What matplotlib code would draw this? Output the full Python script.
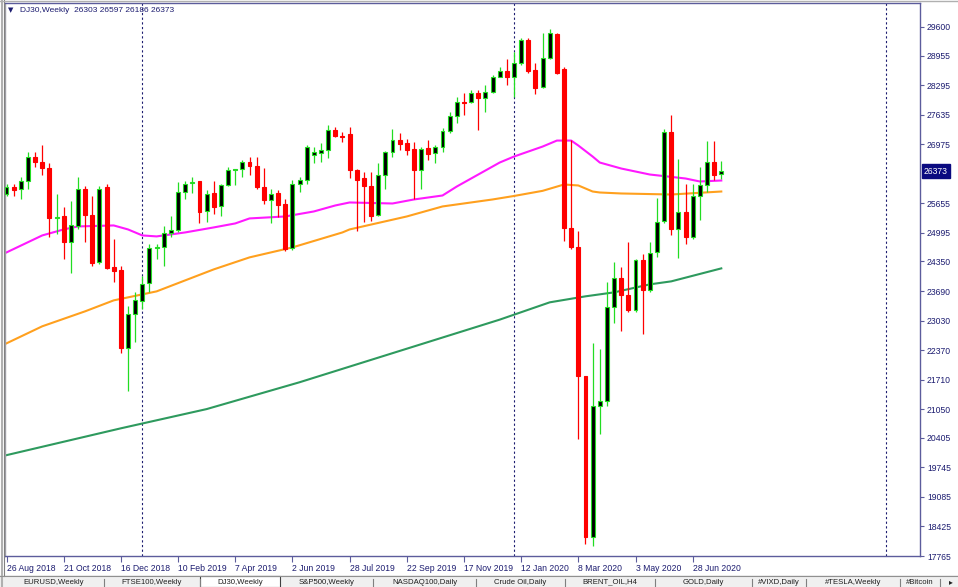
import numpy as np
import matplotlib
matplotlib.use("Agg")
import matplotlib.pyplot as plt
import matplotlib.transforms as mtransforms
from matplotlib.patches import Rectangle
from matplotlib.lines import Line2D

# ---------------- data (weekly OHLC, DJ30) ----------------
opens = [25849, 26005, 25960, 26139, 26697, 26585, 26451, 25320, 25357, 24777,
         25134, 25960, 25380, 24330, 26005, 24218, 24151, 22410, 23169, 23459,
         23861, 24643, 24665, 24978, 25045, 25893, 26110, 26139, 25469, 25871,
         25581, 26050, 26395, 26429, 26585, 26496, 26005, 25715, 25871, 25625,
         24643, 26094, 26183, 26742, 26786, 26853, 27300, 27166, 27200, 26407,
         26228, 26027, 25380, 26273, 26809, 27077, 27010, 26876, 26407, 26898,
         26786, 26920, 27278, 27613, 27925, 27925, 28126, 28014, 28148, 28483,
         28617, 28483, 28796, 29310, 28640, 28260, 28908, 29444, 28662, 25089,
         24665, 21784, 18189, 21115, 21226, 23325, 23973, 23593, 23258, 24375,
         23705, 24553, 25246, 27255, 25067, 25447, 24888, 25804, 26050, 26585,
         26303]
highs = [26072, 26072, 26250, 26809, 26809, 26965, 26563, 25849, 25558, 25692,
         26250, 26027, 25804, 26027, 26072, 24844, 24241, 23348, 23660, 24017,
         24732, 24732, 25134, 25357, 26117, 26139, 26250, 26150, 25938, 26139,
         26072, 26474, 26429, 26630, 26697, 26697, 26451, 25960, 25938, 25737,
         26183, 26250, 26965, 26920, 27010, 27412, 27367, 27255, 27367, 26420,
         26362, 26362, 26563, 26831, 27322, 27233, 27099, 27032, 26920, 27077,
         26965, 27345, 27702, 28037, 28126, 28193, 28193, 28305, 28528, 28707,
         28885, 29042, 29354, 29354, 28796, 29466, 29555, 29466, 28707, 27077,
         25022, 21800, 22521, 22387, 23883, 24330, 24218, 24777, 24397, 24509,
         24777, 25781, 27322, 27635, 26652, 26072, 26072, 26474, 27054, 27054,
         26597]
lows = [25804, 25804, 25737, 25960, 26474, 26295, 24888, 24955, 24397, 24084,
        25067, 24777, 24241, 24285, 24174, 23884, 22298, 21449, 22544, 23281,
        23660, 24397, 24241, 24888, 25000, 25737, 25871, 25201, 25223, 25402,
        25357, 26027, 26050, 26250, 26295, 25960, 25625, 25201, 25335, 24576,
        24598, 25893, 26072, 26563, 26585, 26675, 27144, 27032, 26206, 25022,
        25223, 25246, 25357, 25960, 26697, 26853, 26742, 25737, 25960, 26630,
        26563, 26809, 27233, 27456, 27635, 27903, 27300, 27702, 28126, 28483,
        28305, 28037, 28751, 28573, 28104, 28238, 28885, 28550, 24800, 24620,
        20378, 18033, 17988, 20489, 21115, 22968, 22789, 23213, 23213, 22722,
        23660, 24442, 25201, 24933, 24420, 24732, 24844, 25268, 25893, 26183,
        26186]
closes = [26005, 25938, 26139, 26697, 26585, 26451, 25313, 25340, 24777, 25156,
          25960, 25380, 24308, 25982, 24196, 24129, 22410, 23169, 23481, 23839,
          24643, 24665, 24978, 25045, 25915, 26094, 26130, 25447, 25849, 25558,
          26050, 26385, 26410, 26585, 26496, 26005, 25715, 25849, 25603, 24620,
          26094, 26183, 26920, 26809, 26853, 27300, 27166, 27144, 26385, 26183,
          26027, 25357, 26273, 26809, 27077, 26987, 26853, 26407, 26876, 26764,
          26920, 27278, 27613, 27925, 27903, 28126, 28014, 28148, 28483, 28617,
          28483, 28796, 29310, 28617, 28238, 28908, 29466, 28573, 25089, 24665,
          21784, 18189, 21115, 21226, 23325, 23973, 23593, 23258, 24375, 23705,
          24531, 25223, 27255, 25067, 25447, 24888, 25804, 26050, 26585, 26273,
          26373]

# moving averages, read at sample bars (bar index, price)
ma_magenta_idx = [0, 5, 8, 10, 15, 17, 19, 21, 25, 29, 32, 34, 39, 43, 46, 48, 54,
                  57, 61, 63, 66, 69, 71, 75, 77, 79, 80, 82, 83, 86, 90, 95, 97, 100]
ma_magenta_val = [24553, 24933, 25067, 25134, 25156, 25067, 24933, 24911, 25000,
                  25112, 25201, 25313, 25357, 25469, 25603, 25670, 25647, 25737,
                  25826, 26027, 26295, 26563, 26697, 26920, 27054, 27054, 26943,
                  26697, 26563, 26429, 26295, 26206, 26139, 26161]
ma_orange_idx = [0, 5, 11, 15, 21, 29, 34, 40, 47, 48, 56, 61, 68, 71, 75, 78, 80,
                 82, 83, 86, 93, 100]
ma_orange_val = [22520, 22901, 23236, 23481, 23682, 24174, 24442, 24665, 25000,
                 25067, 25357, 25581, 25737, 25815, 25930, 26072, 26050, 25915,
                 25893, 25871, 25848, 25915]
ma_green_idx = [0, 16, 28, 41, 55, 69, 76, 81, 85, 90, 93, 100]
ma_green_val = [20020, 20620, 21050, 21650, 22350, 23050, 23437, 23571, 23660,
                23839, 23906, 24196]

date_tick_idx = [0, 8, 16, 24, 32, 40, 48, 56, 64, 72, 80, 88, 96]
date_labels = ["26 Aug 2018", "21 Oct 2018", "16 Dec 2018", "10 Feb 2019",
               "7 Apr 2019", "2 Jun 2019", "28 Jul 2019", "22 Sep 2019",
               "17 Nov 2019", "12 Jan 2020", "8 Mar 2020", "3 May 2020",
               "28 Jun 2020"]
separator_idx = [19, 71, 123]
price_ticks = [17765, 18425, 19085, 19745, 20405, 21050, 21710, 22370, 23030,
               23690, 24350, 24995, 25655, 26975, 27635, 28295, 28955, 29600]
last_price = 26373
header = "DJ30,Weekly  26303 26597 26186 26373"
tabs = ["EURUSD,Weekly", "FTSE100,Weekly", "DJ30,Weekly", "S&P500,Weekly",
        "NASDAQ100,Daily", "Crude Oil,Daily", "BRENT_OIL,H4", "GOLD,Daily",
        "#VIXD,Daily", "#TESLA,Weekly", "#Bitcoin"]

# ---------------- figure ----------------
W, H = 958, 587
plt.rcParams['font.family'] = ['Liberation Sans', 'DejaVu Sans']
fig = plt.figure(figsize=(W / 100, H / 100), dpi=100)
fig.patch.set_facecolor('white')

NAVY = '#1c1c70'
FRAME = '#5c5c9c'
BULL = '#22dd22'
BEAR = '#ff0000'

ax = fig.add_axes([5 / W, 1 - 556 / H, (920 - 5) / W, (556 - 3) / H])
ax.set_facecolor('white')

O = np.array(opens, float); Hh = np.array(highs, float)
L = np.array(lows, float); C = np.array(closes, float)
n = len(O)
x = np.arange(n)
bull = C >= O

# MA lines (behind candles)
ax.plot(ma_green_idx, ma_green_val, color='#2e9a5e', lw=1.5, zorder=2)
ax.plot(ma_orange_idx, ma_orange_val, color='#ffa01e', lw=1.5, zorder=2)
ax.plot(ma_magenta_idx, ma_magenta_val, color='#ff19ff', lw=1.5, zorder=2)

# wicks
ax.vlines(x[bull], L[bull], Hh[bull], color=BULL, lw=0.9, zorder=3)
ax.vlines(x[~bull], L[~bull], Hh[~bull], color=BEAR, lw=0.9, zorder=3)
# bodies
bottoms = np.minimum(O, C)
heights = np.abs(C - O)
ax.bar(x[bull], heights[bull], bottom=bottoms[bull], width=0.55,
       color='black', edgecolor=BULL, lw=0.8, zorder=4)
ax.bar(x[~bull], heights[~bull], bottom=bottoms[~bull], width=0.55,
       color=BEAR, edgecolor=BEAR, lw=0.8, zorder=4)

# period separators
for s in separator_idx:
    ax.axvline(s, color=NAVY, lw=0.8, ls=(0, (2, 2.2)), zorder=1)

ax.set_xlim(-0.21, 127.8)
ax.set_ylim(17765, 30130)

for sp in ax.spines.values():
    sp.set_color(FRAME)
    sp.set_linewidth(1.0)
ax.spines['left'].set_color('#a0a0a8')

ax.yaxis.tick_right()
ax.set_yticks(price_ticks)
ax.set_yticklabels([str(v) for v in price_ticks])
ax.tick_params(axis='y', direction='out', length=3, width=0.8, colors=FRAME,
               labelcolor=NAVY, labelsize=6.2, pad=2)
ax.set_xticks(date_tick_idx)
ax.set_xticklabels(date_labels)
ax.tick_params(axis='x', direction='out', length=4, width=0.8, colors=FRAME,
               labelcolor=NAVY, labelsize=6.2, pad=2)
for lab in ax.get_xticklabels():
    lab.set_ha('left')

# last price box
trans = mtransforms.blended_transform_factory(ax.transAxes, ax.transData)
ax.text(1.004, last_price, str(last_price), transform=trans, ha='left', va='center',
        color='white', fontsize=6.2, zorder=10, clip_on=False,
        bbox=dict(boxstyle='square,pad=0.25', fc='#0a0a80', ec='#0a0a80'))

# header
fig.text(8 / W, 1 - 10 / H, "\u25bc", fontsize=5, color=NAVY, va='center',
         ha='left', family='DejaVu Sans')
fig.text(20 / W, 1 - 10 / H, header, fontsize=6.0, color=NAVY, va='center', ha='left')

# window borders on the left / top
fig.add_artist(Line2D([1.5 / W, 1.5 / W], [0, 1], color='#b0b0b0', lw=1.5))
fig.add_artist(Line2D([3.5 / W, 3.5 / W], [1 - 576 / H, 1], color='#808080', lw=0.8))
fig.add_artist(Line2D([0, 1], [1 - 0.5 / H, 1 - 0.5 / H], color='#b0b0b0', lw=1.0))

# tab bar
fig.add_artist(Rectangle((0, 0), 1, (H - 575) / H, transform=fig.transFigure,
                         fc='#f0f0f0', ec='none', zorder=0))
fig.add_artist(Line2D([0, 1], [1 - 576 / H, 1 - 576 / H], color='#909090', lw=0.8))
tab_edges = [4, 104, 200, 280, 373, 476, 565, 655, 752, 806, 900, 940]
for i, t in enumerate(tabs):
    x0, x1 = tab_edges[i], tab_edges[i + 1]
    if t == "DJ30,Weekly":
        fig.add_artist(Rectangle((x0 / W, 0), (x1 - x0) / W, (H - 576) / H,
                                 transform=fig.transFigure, fc='white',
                                 ec='#404040', lw=0.8, zorder=1))
    else:
        fig.add_artist(Line2D([x1 / W, x1 / W], [0, (H - 579) / H],
                              color='#808080', lw=0.8))
    fig.text((x0 + x1) / 2 / W, 1 - 582 / H, t, fontsize=5.6, color='#202020',
             ha='center', va='center', zorder=2)
fig.text(951 / W, 1 - 582 / H, "\u25b8", fontsize=5.5, color='#202020', ha='center',
         va='center', family='DejaVu Sans')

fig.savefig("out.png", dpi=100, facecolor='white')
